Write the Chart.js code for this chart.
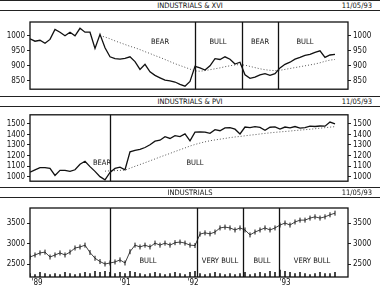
<!DOCTYPE html>
<html>
<head>
<meta charset="utf-8">
<script src="https://cdn.jsdelivr.net/npm/chart.js@4/dist/chart.umd.min.js"></script>
<style>
  body { margin: 0; background: #fff; }
  #wrap { position: relative; width: 380px; height: 287px; overflow: hidden;
          font-family: "DejaVu Sans Condensed", sans-serif; color: #111; }
  .hdr { position: absolute; left: 0; width: 380px; height: 9px;
         border-top: 1.5px solid #222; border-bottom: 1.5px solid #222;
         font-size: 7.5px; line-height: 9px; }
  .hdr .t { position: absolute; left: 0; right: 0; text-align: center; }
  .hdr .d { position: absolute; right: 8px; }
  canvas { position: absolute; left: 0; }
</style>
</head>
<body>
<div id="wrap">
  <div class="hdr" style="top:0"><span class="t">INDUSTRIALS &amp; XVI</span><span class="d">11/05/93</span></div>
  <canvas id="c1" width="380" height="84" style="top:12px"></canvas>
  <div class="hdr" style="top:96px"><span class="t">INDUSTRIALS &amp; PVI</span><span class="d">11/05/93</span></div>
  <canvas id="c2" width="380" height="80" style="top:108px"></canvas>
  <div class="hdr" style="top:187px"><span class="t">INDUSTRIALS</span><span class="d">11/05/93</span></div>
  <canvas id="c3" width="380" height="88" style="top:199px"></canvas>
</div>
<script>
// weekly readings, Jan '89 .. Nov '93
const xvi = [990, 982, 985, 975, 988, 1021, 1012, 1000, 1012, 1000, 1025, 1012, 1012, 958, 1005,
  960, 930, 924, 922, 925, 930, 914, 888, 905, 880, 868, 860, 852, 850, 846, 838, 832, 848,
  898, 893, 886, 900, 924, 921, 930, 922, 906, 912, 870, 858, 862, 870, 874, 868, 874,
  893, 905, 912, 922, 928, 935, 938, 945, 950, 928, 936, 938];
const xviAvg = [null, null, null, null, null, null, null, null, null, null, null, null, null, null, 1000,
  996, 990, 983, 977, 971, 965, 960, 954, 947, 941, 934, 928, 921, 914, 907, 901, 895, 889,
  883, 882, 884, 887, 890, 893, 897, 900, 903, 904, 902, 898, 894, 890, 887, 885, 884,
  885, 888, 891, 894, 897, 900, 903, 906, 910, 915, 919, 921];
const pvi = [1043, 1065, 1086, 1086, 1078, 1012, 1060, 1060, 1050, 1065, 1118, 1146, 1095, 1050, 1000,
  970, 1040, 1078, 1090, 1065, 1235, 1250, 1259, 1276, 1302, 1336, 1345, 1379, 1362, 1388, 1379, 1405, 1340,
  1422, 1425, 1422, 1410, 1445, 1435, 1462, 1465, 1450, 1405, 1470, 1465, 1474, 1466, 1440, 1468, 1472,
  1450, 1470, 1462, 1475, 1460, 1465, 1478, 1475, 1480, 1478, 1517, 1500];
const pviAvg = [null, null, null, null, null, null, null, null, null, null, null, null, null, null, null,
  1052, 1055, 1057, 1060, 1062, 1080, 1098, 1115, 1132, 1150, 1168, 1186, 1203, 1220, 1238, 1255, 1272, 1290,
  1305, 1318, 1330, 1340, 1348, 1355, 1362, 1370, 1376, 1381, 1387, 1393, 1398, 1404, 1410, 1415, 1420,
  1424, 1428, 1432, 1437, 1441, 1445, 1449, 1454, 1459, 1464, 1469, 1474];
const djia = [2670, 2720, 2770, 2790, 2670, 2720, 2770, 2720, 2790, 2890, 2915, 2960, 2780, 2640, 2560,
  2500, 2525, 2550, 2600, 2525, 2800, 2960, 2915, 2960, 2915, 3010, 2960, 3010, 2960, 3020, 3035, 3010, 2960,
  2950, 3230, 3260, 3235, 3280, 3380, 3400, 3380, 3330, 3380, 3330, 3210, 3280, 3330, 3380, 3330, 3380,
  3450, 3500, 3450, 3525, 3570, 3570, 3620, 3650, 3620, 3650, 3700, 3740];
const volume = [3, 2, 4, 3, 2, 3, 2, 4, 3, 2, 3, 4, 3, 5, 4,
  5, 4, 3, 4, 3, 5, 4, 3, 2, 3, 4, 3, 2, 3, 4, 3, 2, 4,
  5, 3, 2, 3, 4, 3, 2, 3, 2, 3, 4, 2, 3, 4, 3, 5, 4,
  6, 5, 4, 3, 4, 3, 2, 3, 4, 3, 3, 4];

const xviTicks = [850, 900, 950, 1000];
const pviTicks = [1000, 1100, 1200, 1300, 1400, 1500];
const djiaTicks = [2500, 3000, 3500];
const yearLabels = ["'89", "'91", "'92", "'93"];
const yearWeeks = [1.4, 19, 32.6, 51];

const xviSplits = [33, 42.4, 49.6];
const pviSplits = [16];
const djiaSplits = [16, 33.4, 42.6, 49.8];
const xviPhases = [['BEAR', 26, 978], ['BULL', 37.6, 978], ['BEAR', 46, 978], ['BULL', 55, 978]];
const pviPhases = [['BEAR', 14.4, 1130], ['BULL', 33, 1130]];
const djiaPhases = [['BULL', 23.6, 2560], ['VERY BULL', 38, 2560], ['BULL', 46.4, 2560], ['VERY BULL', 56.4, 2560]];

const FONT = '"DejaVu Sans Condensed", sans-serif';
const xy = arr => arr.map((v, i) => ({ x: i, y: v }));

const frame = {
  id: 'frame',
  afterDatasetsDraw(chart, args, opts) {
    const { ctx, chartArea: a, scales } = chart;
    ctx.save();
    ctx.strokeStyle = '#111';
    ctx.lineWidth = 1.3;
    ctx.strokeRect(a.left, a.top, a.right - a.left, a.bottom - a.top);
    opts.splits.forEach(v => {
      const x = Math.round(scales.x.getPixelForValue(v)) + 0.5;
      ctx.beginPath();
      ctx.moveTo(x, a.top);
      ctx.lineTo(x, a.bottom);
      ctx.stroke();
    });
    ctx.fillStyle = '#111';
    ctx.font = '7.5px ' + FONT;
    ctx.textAlign = 'center';
    ctx.textBaseline = 'middle';
    opts.phases.forEach(p => {
      ctx.fillText(p[0], scales.x.getPixelForValue(p[1]), scales.y.getPixelForValue(p[2]));
    });
    ctx.restore();
  }
};

function yAxis(pos, min, max, ticks, width) {
  return {
    position: pos, min: min, max: max,
    afterBuildTicks: s => { s.ticks = ticks.map(v => ({ value: v })); },
    afterFit: s => { s.width = width; },
    grid: { drawOnChartArea: false, tickLength: 3, color: '#222' },
    border: { display: false },
    ticks: { color: '#111', font: { family: FONT, size: 8 }, padding: 2,
      callback: v => String(v) }
  };
}

function panel(id, series, avg, min, max, ticks, splits, phases, pad, extra) {
  const datasets = [
    { data: xy(series), borderColor: '#111', borderWidth: 1.3, pointRadius: 0, tension: 0, order: 1 }
  ];
  if (avg) {
    datasets.push({ data: xy(avg), borderColor: '#555', borderWidth: 1, borderDash: [1, 2],
      pointRadius: 0, spanGaps: false, order: 2 });
  }
  const scales = {
    x: { type: 'linear', min: 0, max: 63.6, display: false, offset: false },
    y: yAxis('left', min, max, ticks, 30),
    y2: yAxis('right', min, max, ticks, 32)
  };
  const cfg = {
    type: 'line',
    data: { datasets: datasets },
    options: {
      responsive: false, animation: false, devicePixelRatio: 1,
      layout: { padding: pad },
      plugins: { legend: { display: false }, tooltip: { enabled: false },
        frame: { splits: splits, phases: phases } },
      scales: scales
    },
    plugins: [frame]
  };
  if (extra) extra(cfg);
  return new Chart(document.getElementById(id), cfg);
}

panel('c1', xvi, xviAvg, 822, 1046, xviTicks, xviSplits, xviPhases, { top: 10, bottom: 1, left: 0, right: 0 });
panel('c2', pvi, pviAvg, 957, 1586, pviTicks, pviSplits, pviPhases, { top: 6, bottom: 1, left: 0, right: 0 });
panel('c3', djia, null, 2183, 3866, djiaTicks, djiaSplits, djiaPhases, { top: 9, bottom: 0, left: 0, right: 0 }, cfg => {
  const ds = cfg.data.datasets[0];
  ds.borderWidth = 0.8;
  ds.pointStyle = 'line';
  ds.pointRotation = 90;
  ds.pointRadius = 2.5;
  ds.pointBorderWidth = 1;
  ds.pointBorderColor = '#111';
  cfg.data.datasets.push({
    type: 'bar', data: xy(volume), yAxisID: 'yv', backgroundColor: '#222',
    barThickness: 1, order: 3
  });
  cfg.options.scales.yv = { display: false, min: 0, max: 60 };
  cfg.options.scales.x = {
    type: 'linear', min: 0, max: 63.6, offset: false,
    afterBuildTicks: s => { s.ticks = yearWeeks.map(v => ({ value: v })); },
    afterFit: s => { s.height = 10; },
    grid: { display: false, drawTicks: false },
    border: { display: false },
    ticks: { color: '#111', font: { family: FONT, size: 8 }, padding: 1,
      maxRotation: 0, autoSkip: false, callback: (v, i) => yearLabels[i] }
  };
});
</script>
</body>
</html>
